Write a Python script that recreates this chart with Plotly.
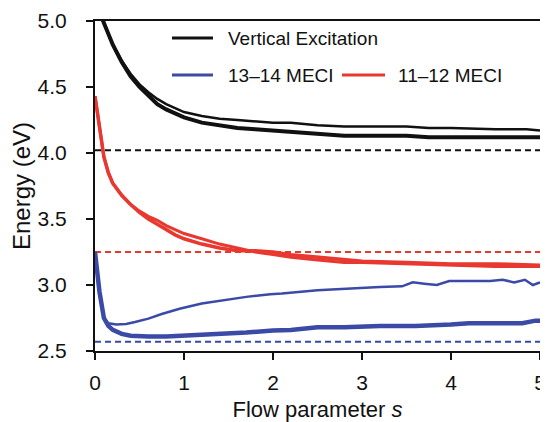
import plotly.graph_objects as go

# ---- data ----
s_ve = [0, 0.1, 0.2, 0.3, 0.4, 0.5, 0.6, 0.7, 0.8, 0.9, 1.0, 1.2, 1.4, 1.6, 1.8,
        2.0, 2.2, 2.5, 2.8, 3.0, 3.5, 3.75, 4.0, 4.5, 4.85, 5.0]
ve_lower = [5.15, 4.98, 4.82, 4.69, 4.58, 4.50, 4.43, 4.37, 4.33, 4.30, 4.27, 4.23, 4.21,
            4.19, 4.18, 4.17, 4.16, 4.14, 4.13, 4.13, 4.13, 4.12, 4.12, 4.12, 4.12, 4.12]
ve_upper = [5.15, 4.98, 4.82, 4.70, 4.60, 4.52, 4.46, 4.41, 4.37, 4.34, 4.31, 4.28, 4.26,
            4.25, 4.24, 4.23, 4.23, 4.21, 4.20, 4.20, 4.20, 4.19, 4.19, 4.18, 4.18, 4.17]

s_red = [0, 0.05, 0.1, 0.15, 0.2, 0.3, 0.4, 0.5, 0.6, 0.7, 0.8, 0.9, 1.0, 1.2, 1.4, 1.6,
         1.8, 2.0, 2.2, 2.5, 2.8, 3.0, 3.5, 4.0, 4.5, 5.0]
red_a = [4.43, 4.18, 3.97, 3.85, 3.77, 3.68, 3.61, 3.55, 3.50, 3.46, 3.42, 3.38, 3.35,
         3.31, 3.28, 3.26, 3.26, 3.25, 3.23, 3.21, 3.19, 3.18, 3.17, 3.16, 3.16, 3.15]
red_b = [4.43, 4.18, 3.97, 3.85, 3.77, 3.68, 3.61, 3.56, 3.52, 3.49, 3.45, 3.42, 3.39,
         3.35, 3.31, 3.28, 3.25, 3.23, 3.21, 3.19, 3.17, 3.17, 3.16, 3.15, 3.14, 3.14]

s_blue_thick = [0, 0.05, 0.1, 0.15, 0.2, 0.3, 0.4, 0.5, 0.6, 0.8, 1.0, 1.2, 1.4, 1.7,
                2.0, 2.2, 2.5, 2.8, 3.2, 3.6, 4.0, 4.2, 4.6, 4.8, 4.95, 5.0]
blue_thick = [3.25, 2.95, 2.75, 2.69, 2.66, 2.63, 2.615, 2.61, 2.61, 2.61, 2.615, 2.62,
              2.625, 2.64, 2.655, 2.66, 2.68, 2.68, 2.69, 2.69, 2.70, 2.71, 2.71, 2.71,
              2.73, 2.73]
s_blue_thin = [0, 0.05, 0.1, 0.15, 0.24, 0.35, 0.45, 0.6, 0.75, 0.95, 1.2, 1.45, 1.7,
               1.97, 2.1, 2.5, 2.85, 3.2, 3.45, 3.57, 3.7, 3.84, 3.98, 4.2, 4.44, 4.58,
               4.71, 4.83, 4.92, 5.0]
blue_thin = [3.25, 2.95, 2.75, 2.71, 2.70, 2.705, 2.72, 2.745, 2.78, 2.82, 2.86, 2.885,
             2.91, 2.93, 2.935, 2.96, 2.975, 2.985, 2.99, 3.02, 3.01, 3.00, 3.03, 3.03,
             3.03, 3.04, 3.02, 3.04, 3.00, 3.02]

ref_s = [0, 5]
ref_ve = 4.02
ref_red = 3.25
ref_blue = 2.57

x_ticks = [0, 1, 2, 3, 4, 5]
y_ticks = [2.5, 3.0, 3.5, 4.0, 4.5, 5.0]

BLACK = "#111111"
RED = "#e8382f"
BLUE = "#3a4aa6"
FONT = "Liberation Sans, Arial, sans-serif"

# page offset of the plot div (default body margin)
OFF = 8
FIG_W, FIG_H = 540, 414
PL, PR, PT, PB = 95, 540, 21, 351  # plot area in page pixels

fig = go.Figure()

def ref_line(v, color):
    fig.add_trace(go.Scatter(x=ref_s, y=[v, v], mode="lines",
                             line=dict(color=color, width=2, dash="6px,4px"),
                             showlegend=False, hoverinfo="skip"))

ref_line(ref_ve, BLACK)
ref_line(ref_red, RED)
ref_line(ref_blue, BLUE)

def curve(x, y, color, w):
    fig.add_trace(go.Scatter(x=x, y=y, mode="lines", line=dict(color=color, width=w),
                             showlegend=False))

curve(s_ve, ve_upper, BLACK, 2.5)
curve(s_ve, ve_lower, BLACK, 4)
curve(s_red, red_b, RED, 3)
curve(s_red, red_a, RED, 3.5)
curve(s_blue_thin, blue_thin, BLUE, 2.5)
curve(s_blue_thick, blue_thick, BLUE, 4.5)

# custom legend (paper coordinates from page pixels)
def px(x):
    return (x - PL) / (PR - PL)
def py(y):
    return (PB - y) / (PB - PT)

legend_items = [
    ("Vertical Excitation", BLACK, 172, 213, 226, 38),
    ("13\u201314 MECI", BLUE, 172, 213, 226, 75),
    ("11\u201312 MECI", RED, 342, 385, 396, 75),
]
for text, color, x0, x1, xt, yy in legend_items:
    fig.add_shape(type="line", xref="paper", yref="paper",
                  x0=px(x0), x1=px(x1), y0=py(yy), y1=py(yy),
                  line=dict(color=color, width=3))
    fig.add_annotation(xref="paper", yref="paper", x=px(xt), y=py(yy), text=text,
                       showarrow=False, xanchor="left", yanchor="middle",
                       font=dict(family=FONT, size=19, color="#111111"))

axis_common = dict(showline=True, linecolor=BLACK, linewidth=2, mirror=True,
                   ticks="outside", ticklen=7, tickwidth=2, tickcolor=BLACK,
                   showgrid=False, zeroline=False, automargin=False,
                   tickfont=dict(family=FONT, size=21, color="#111111"))

fig.update_xaxes(range=[0, 5], tickvals=x_ticks, ticktext=[str(v) for v in x_ticks],
                 ticklabelstandoff=5,
                 title=dict(text="Flow parameter <i>s</i>", standoff=10,
                            font=dict(family=FONT, size=22, color="#111111")),
                 **axis_common)
fig.update_yaxes(range=[2.5, 5.0], tickvals=y_ticks,
                 ticktext=[f"{v:.1f}" for v in y_ticks],
                 ticklabelstandoff=15,
                 title=dict(text="Energy (eV)", standoff=2,
                            font=dict(family=FONT, size=24, color="#111111")),
                 **axis_common)

fig.update_layout(width=FIG_W, height=FIG_H,
                  margin=dict(l=PL - OFF, r=FIG_W - (PR - OFF), t=PT - OFF,
                              b=FIG_H - (PB - OFF)),
                  paper_bgcolor="white", plot_bgcolor="white",
                  showlegend=False)

fig.write_html("out.html")
